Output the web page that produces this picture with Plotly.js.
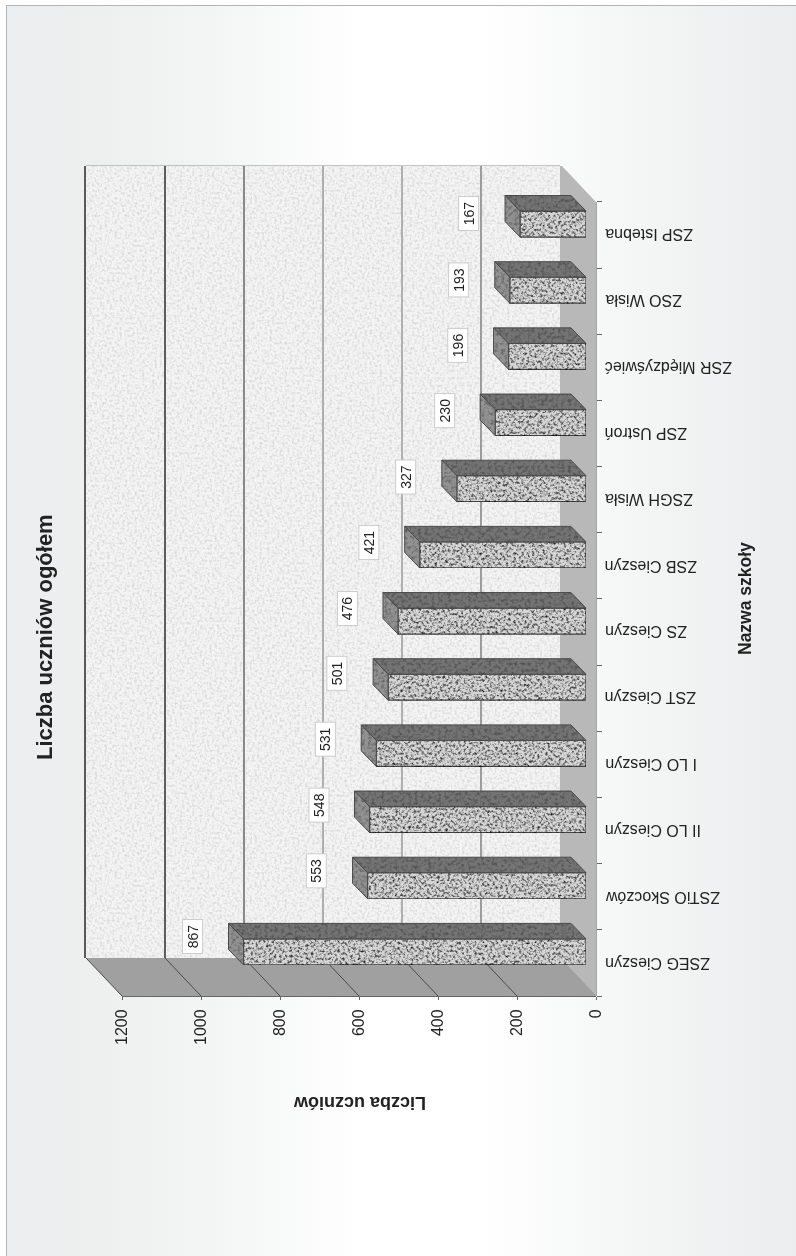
<!DOCTYPE html>
<html><head><meta charset="utf-8">
<script src="https://cdn.plot.ly/plotly-3.0.1.min.js"></script>
<style>
html,body{margin:0;padding:0;background:#fff;width:796px;height:1256px;overflow:hidden}
#frame{position:absolute;left:6px;top:5px;width:790px;height:1251px;box-sizing:border-box;border-left:1px solid #b4b4b4;border-top:1px solid #b4b4b4;
background:linear-gradient(90deg,#ebedee 0%,#eef0f0 12%,#f3f4f4 25%,#ffffff 45%,#ffffff 60%,#f4f5f5 80%,#ebedee 100%)}
#chart{position:absolute;left:0;top:0;width:796px;height:1256px;filter:blur(0.4px)}
</style></head><body>
<svg width="0" height="0" style="position:absolute">
<defs>
<filter id="speckleBar" x="0" y="0" width="1" height="1" color-interpolation-filters="sRGB">
<feTurbulence type="fractalNoise" baseFrequency="0.38" numOctaves="3" seed="7"/>
<feGaussianBlur stdDeviation="0.5"/>
<feColorMatrix type="matrix" values="2.0 0 0 0 -0.12  2.0 0 0 0 -0.12  2.0 0 0 0 -0.12  0 0 0 0 1"/>
<feComposite in2="SourceGraphic" operator="arithmetic" k1="1" k2="0" k3="0" k4="0"/>
</filter>
<filter id="speckleFace" x="0" y="0" width="1" height="1" color-interpolation-filters="sRGB">
<feTurbulence type="fractalNoise" baseFrequency="0.3" numOctaves="3" seed="11"/>
<feGaussianBlur stdDeviation="0.6"/>
<feColorMatrix type="matrix" values="0.8 0 0 0 0.55  0.8 0 0 0 0.55  0.8 0 0 0 0.55  0 0 0 0 1"/>
<feComposite in2="SourceGraphic" operator="arithmetic" k1="1" k2="0" k3="0" k4="0"/>
</filter>
<filter id="speckleWall" x="0" y="0" width="1" height="1" color-interpolation-filters="sRGB">
<feTurbulence type="fractalNoise" baseFrequency="0.4" numOctaves="2" seed="3"/>
<feGaussianBlur stdDeviation="0.7"/>
<feColorMatrix type="matrix" values="0.3 0 0 0 0.83  0.3 0 0 0 0.83  0.3 0 0 0 0.83  0 0 0 0 1"/>
<feComposite in2="SourceGraphic" operator="arithmetic" k1="1" k2="0" k3="0" k4="0"/>
</filter>
</defs>
</svg>
<div id="frame"></div>
<div id="chart"></div>
<script>
const categories = ["ZSEG Cieszyn","ZSTiO Skoczów","II LO Cieszyn","I LO Cieszyn","ZST Cieszyn","ZS Cieszyn","ZSB Cieszyn","ZSGH Wisła","ZSP Ustroń","ZSR Międzyświeć","ZSO Wisła","ZSP Istebna"];
const students = [867,553,548,531,501,476,421,327,230,196,193,167];
const tickValues = [0,200,400,600,800,1000,1200];
const gridColors = ["#9a9a9a","#9c9c9c","#b0b0b0","#aeaeae","#8a8a8a","#5e5e5e","#5a5a5a"];

const FONT = '"Liberation Sans", Arial, sans-serif';
const INK = '#222222';
// plot box in page pixels
const W=796,H=1256,L=85,R=596,T=166,B=996;
const xPerPx = 1/0.395, yPerPx = 1/66.17;
const xMax = (R-L)*xPerPx, yMax = (B-T)*yPerPx-0.5;
// depth of the 3-D box and of a bar, expressed in axis units
const wallDX = 36*xPerPx, wallDY = 38*yPerPx;
const barBase = 10*xPerPx, barDX = 15*xPerPx, barDY = 15.5*yPerPx;
const barOffset = -0.03, barWidth = 0.393;
const positions = categories.map((_,i)=>i);
const yTop = positions.length-0.5;

function poly(pts,fill,extra){return Object.assign({type:'path',xref:'x',yref:'y',layer:'below',
  path:'M'+pts.map(p=>p[0]+','+p[1]).join('L')+'Z',fillcolor:fill,line:{width:0}},extra||{});}
function seg(x0,y0,x1,y1,color,width,xref,yref){return {type:'line',xref:xref||'x',yref:yref||'y',layer:'below',x0,y0,x1,y1,line:{color,width}};}

const y0 = -0.5, yb = y0+wallDY, yt = yTop+wallDY;
const vMax = tickValues[tickValues.length-1];
const shapes = [
  poly([[wallDX,yb],[wallDX+vMax,yb],[wallDX+vMax,yt],[wallDX,yt]],'#f4f4f4'),
  poly([[0,y0],[vMax,y0],[vMax+wallDX,yb],[wallDX,yb]],'#a0a0a0'),
  poly([[0,y0],[wallDX,yb],[wallDX,yt],[0,yTop]],'#b8b8b8'),
  seg(wallDX,1,wallDX+vMax,1,'#b0b0b0',1.5,'x','paper')
];
tickValues.forEach((v,k)=>{
  if(v>0 && v<vMax) shapes.push(seg(v+wallDX,yb,v+wallDX,yt,gridColors[k],2));
  shapes.push(seg(v,y0,v+wallDX,yb,k===0?'#9a9a9a':'#4a4a4a',1));
});
// lines lying on the edge of the plot box, referred to the paper so they are not cut in half
shapes.push(seg(0,yb,0,yt,gridColors[gridColors.length-1],2,'paper','y'));
shapes.push(seg(0,0,vMax,0,'#666666',2,'x','paper'));
shapes.push(seg(1,y0,1,yTop,'#8a8a8a',1.5,'paper','y'));

// front faces
const front = {type:'bar',orientation:'h',y:positions,x:students,base:students.map(()=>barBase),
  offset:barOffset,width:barWidth,
  marker:{color:'#d6d6d6',line:{color:'#444444',width:1.2}},hoverinfo:'skip',showlegend:false,cliponaxis:false};

// upper and end faces, from the same values
const topX=[],topY=[],endX=[],endY=[];
students.forEach((v,i)=>{
  const a=i+barOffset+barWidth, b=i+barOffset;
  topX.push(barBase,barBase+v,barBase+v+barDX,barBase+barDX,barBase,null);
  topY.push(a,a,a+barDY,a+barDY,a,null);
  endX.push(barBase+v,barBase+v+barDX,barBase+v+barDX,barBase+v,barBase+v,null);
  endY.push(a,a+barDY,b+barDY,b,a,null);
});
const faceLine={color:'#4a4a4a',width:1};
const topFace={type:'scatter',mode:'lines',x:topX,y:topY,fill:'toself',fillcolor:'#747474',line:faceLine,hoverinfo:'skip',showlegend:false};
const endFace={type:'scatter',mode:'lines',x:endX,y:endY,fill:'toself',fillcolor:'#929292',line:faceLine,hoverinfo:'skip',showlegend:false};

const annotations=[];
categories.forEach((c,i)=>annotations.push({xref:'x',yref:'y',x:0,y:i,text:c,showarrow:false,textangle:180,
  xanchor:'left',yanchor:'middle',xshift:7,font:{family:FONT,size:16,color:INK}}));
students.forEach((v,i)=>annotations.push({xref:'x',yref:'y',x:barBase+v+barDX+36*xPerPx,y:i*0.9926+0.4,text:String(v),showarrow:false,textangle:-90,
  width:33,height:19,borderpad:0,bgcolor:'#ffffff',bordercolor:'#cccccc',borderwidth:1,
  xanchor:'center',yanchor:'middle',font:{family:FONT,size:14,color:INK}}));
const px=x=>(x-L)/(R-L), py=y=>(B-y)/(B-T);
const text=(t,x,y,ang,size)=>({xref:'paper',yref:'paper',x:px(x),y:py(y),text:'<b>'+t+'</b>',showarrow:false,textangle:ang,
  xanchor:'center',yanchor:'middle',font:{family:FONT,size,color:INK}});
annotations.push(text('Liczba uczniów ogółem',44,637,-90,22));
annotations.push(text('Liczba uczniów',360,1103,180,18));
annotations.push(text('Nazwa szkoły',745,599,-90,17.5));

const layout={width:W,height:H,margin:{l:L,r:W-R,t:T,b:H-B,pad:0},paper_bgcolor:'rgba(0,0,0,0)',plot_bgcolor:'rgba(0,0,0,0)',
  showlegend:false,barmode:'overlay',
  xaxis:{range:[xMax,0],tickmode:'array',tickvals:tickValues,ticktext:tickValues.map(String),tickangle:-90,
    ticks:'outside',ticklen:3,tickcolor:'#666666',showgrid:false,zeroline:false,showline:false,ticklabelstandoff:3,
    tickfont:{family:FONT,size:16,color:INK}},
  yaxis:{range:[y0,yMax],side:'right',tickmode:'array',tickvals:positions.map(p=>p-0.5).concat([yTop]),showticklabels:false,
    ticks:'outside',ticklen:5,tickcolor:'#666666',showgrid:false,zeroline:false,showline:false},
  shapes,annotations};

Plotly.newPlot('chart',[front,topFace,endFace],layout,{displayModeBar:false,staticPlot:true}).then(gd=>{
  gd.querySelectorAll('.barlayer .point path').forEach(p=>p.style.filter='url(#speckleBar)');
  gd.querySelectorAll('.scatterlayer .js-fill').forEach(p=>p.style.filter='url(#speckleFace)');
  gd.querySelectorAll('path').forEach(p=>{
    if(p.style.fill==='rgb(244, 244, 244)') p.style.filter='url(#speckleWall)';
  });
});
</script>
</body></html>
